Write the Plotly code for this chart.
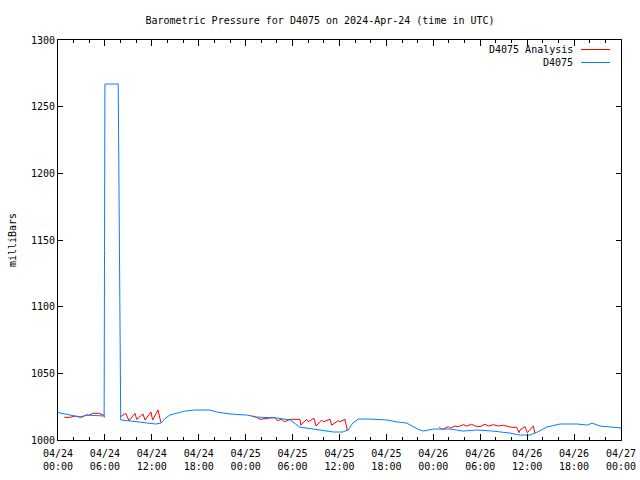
import plotly.graph_objects as go
import pandas as pd

BASE = pd.Timestamp("2024-04-24 00:00")

# D4075 observed pressure (hours since 2024-04-24 00:00 UTC, millibars)
obs_hours = [0.0, 0.9, 1.8, 2.8, 3.7, 4.7, 5.9, 5.95, 6.0, 7.7, 7.75, 7.95, 8.02,
             8.06, 9.2, 10.5, 11.8, 12.5, 13.2, 13.6, 14.3, 15.3, 16.2, 17.5, 19.4,
             20.3, 22.0, 24.2, 25.4, 28.0, 29.7, 30.9, 32.6, 33.9, 35.2, 36.4, 37.1,
             37.7, 38.4, 39.9, 42.1, 43.4, 44.6, 46.0, 46.7, 48.0, 50.1, 51.8, 53.6,
             55.6, 57.8, 59.1, 60.4, 61.3, 62.5, 64.2, 66.4, 67.7, 68.3, 69.3, 70.6, 72.0]
obs_values = [1020.6, 1019.5, 1018.0, 1017.2, 1018.7, 1018.4, 1018.0, 1142.0, 1267.0, 1267.0, 1205.0, 1072.0, 1015.0,
              1015.0, 1014.3, 1013.5, 1012.7, 1012.0, 1012.7, 1015.7, 1018.7, 1020.2, 1021.7, 1022.5, 1022.5,
              1021.0, 1019.5, 1018.7, 1017.2, 1016.5, 1015.0, 1009.7, 1008.2, 1007.5, 1006.0, 1006.0, 1007.5,
              1012.7, 1015.7, 1015.7, 1015.0, 1013.5, 1012.7, 1008.2, 1006.7, 1008.2, 1008.2, 1006.7, 1007.5,
              1006.7, 1005.2, 1003.7, 1003.7, 1006.0, 1009.7, 1012.0, 1012.0, 1011.2, 1012.7, 1010.5, 1009.7, 1009.0]

# D4075 Analysis (None separates segments)
ana_hours = [0.8, 1.5, 2.2, 3.0, 3.7, 3.9, 4.5, 5.2, 5.9, 5.92, None,
             8.0, 8.66, 9.08, 9.85, 10.06, 10.87, 11.13, 11.89, 12.1, 12.79, 13.17, None,
             24.77, 25.4, 25.83, 26.69, 27.75, 28.05, 28.6, 29.0, 29.66, 30.95, 31.04, 31.8,
             32.0, 32.74, 33.0, 33.72, 33.93, 34.79, 35.0, 35.85, 36.06, 36.7, 37.0, None,
             48.76, 49.07, 49.49, 49.91, 50.13, 50.77, 51.19, 51.83, 52.27, 52.9, 53.33, 53.97,
             54.61, 55.03, 55.67, 56.31, 56.95, 57.59, 58.02, 58.66, 58.96, 59.08, 59.72, 60.02,
             60.79, 61.0]
ana_values = [1017.0, 1017.0, 1018.0, 1017.0, 1019.0, 1018.5, 1020.0, 1020.0, 1018.5, 1017.0, None,
              1017.5, 1020.0, 1014.5, 1020.0, 1015.5, 1019.5, 1015.0, 1021.0, 1015.0, 1022.5, 1013.0, None,
              1018.0, 1017.0, 1015.5, 1016.3, 1017.0, 1014.5, 1015.5, 1013.7, 1015.5, 1015.5, 1011.2, 1015.5,
              1013.7, 1016.3, 1010.5, 1015.0, 1013.7, 1015.5, 1011.2, 1014.5, 1013.7, 1015.5, 1007.0, None,
              1009.5, 1008.0, 1008.8, 1010.0, 1008.8, 1010.5, 1010.0, 1011.5, 1010.5, 1011.8, 1010.5, 1010.0,
              1011.8, 1010.5, 1011.5, 1010.5, 1011.0, 1010.0, 1009.5, 1009.5, 1005.5, 1007.5, 1010.0, 1005.5,
              1010.5, 1005.0]

y_ticks = [1000, 1050, 1100, 1150, 1200, 1250, 1300]

TITLE = "Barometric Pressure for D4075 on 2024-Apr-24 (time in UTC)"
RED = "#ff0000"
BLUE = "#0080ff"
FONT = "DejaVu Sans Mono"


def to_time(hours):
    return [None if h is None else BASE + pd.Timedelta(hours=h) for h in hours]


fig = go.Figure()
fig.add_trace(go.Scatter(x=to_time(ana_hours), y=ana_values, mode="lines",
                         name="D4075 Analysis", line=dict(color=RED, width=1),
                         connectgaps=False))
fig.add_trace(go.Scatter(x=to_time(obs_hours), y=obs_values, mode="lines",
                         name="D4075", line=dict(color=BLUE, width=1)))

fig.update_layout(
    width=640, height=480,
    margin=dict(l=58, r=19, t=40, b=40, autoexpand=False),
    paper_bgcolor="white", plot_bgcolor="white",
    showlegend=False,
    font=dict(family=FONT, size=10, color="black"),
    title=dict(text=TITLE, x=0.5, xanchor="center", y=1 - 20 / 480, yanchor="middle",
               font=dict(family=FONT, size=10, color="black")),
)

fig.update_xaxes(
    type="date", automargin=False,
    range=[BASE, BASE + pd.Timedelta(hours=72)],
    dtick=6 * 3600 * 1000, tick0=BASE,
    tickformat="%m/%d<br>%H:%M",
    ticks="inside", ticklen=6, tickcolor="black", tickwidth=1,
    ticklabelstandoff=4,
    minor=dict(dtick=2 * 3600 * 1000, ticks="inside", ticklen=3, tickcolor="black", tickwidth=1),
    showline=True, linecolor="black", linewidth=1, mirror="ticks",
    showgrid=False, zeroline=False,
    tickfont=dict(family=FONT, size=10, color="black"),
)
fig.update_yaxes(
    automargin=False,
    range=[1000, 1300],
    tickvals=y_ticks, ticktext=[str(v) for v in y_ticks],
    ticks="inside", ticklen=5, tickcolor="black", tickwidth=1,
    showline=True, linecolor="black", linewidth=1, mirror="ticks",
    showgrid=False, zeroline=False,
    title=dict(text="milliBars", font=dict(family=FONT, size=10, color="black"), standoff=12),
    tickfont=dict(family=FONT, size=10, color="black"),
)

# gnuplot-style key: text followed by line sample, top right
key = [("D4075 Analysis", RED, 49.5), ("D4075", BLUE, 62.5)]
for label, color, ypix in key:
    yp = 1 - (ypix - 40) / 400
    fig.add_annotation(text=label, xref="paper", yref="paper",
                       x=(575 - 58) / 563, y=yp, xanchor="right", yanchor="middle",
                       showarrow=False, font=dict(family=FONT, size=10, color="black"))
    fig.add_shape(type="line", xref="paper", yref="paper",
                  x0=(581 - 58) / 563, x1=(610 - 58) / 563, y0=yp, y1=yp,
                  line=dict(color=color, width=1))

fig.write_html("out.html")
